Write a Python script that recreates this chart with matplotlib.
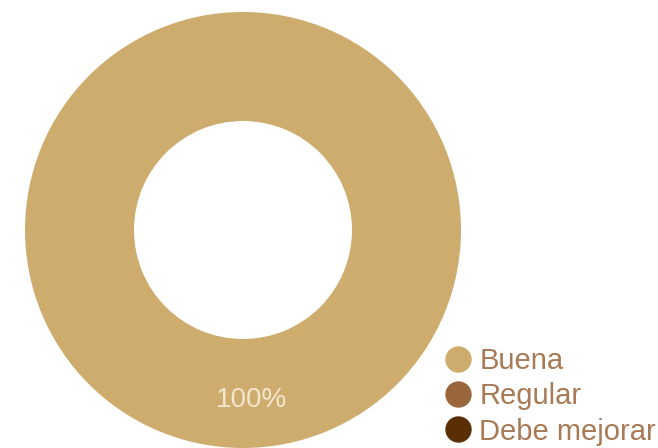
import matplotlib.pyplot as plt
from matplotlib.lines import Line2D

labels = ['Buena', 'Regular', 'Debe mejorar']
values = [100, 0, 0]
colors = ['#CEAC6E', '#9A663C', '#5A2F06']

plt.rcParams['font.family'] = ['Liberation Sans', 'DejaVu Sans']

fig = plt.figure(figsize=(6.58, 4.48), dpi=100)
ax = fig.add_axes([0, 0, 1, 1])


def pct(p):
    return '%d%%' % round(p) if p > 0 else ''


wedges, texts, autotexts = ax.pie(values, colors=colors, center=(243, 218), radius=218,
                                  startangle=93, counterclock=True, autopct=pct,
                                  pctdistance=0.78, frame=True,
                                  wedgeprops=dict(width=109, linewidth=0))
for t in autotexts:
    t.set_color('#F3E7D0')
    t.set_fontsize(20)
ax.set_xlim(0, 658)
ax.set_ylim(0, 448)
ax.set_aspect('equal')
ax.axis('off')

handles = [Line2D([], [], marker='o', linestyle='none', markersize=18,
                  markerfacecolor=c, markeredgecolor=c) for c in colors]
leg = ax.legend(handles, labels, loc='upper left', bbox_to_anchor=(443 / 658, 1 - 347 / 448),
                frameon=False, fontsize=21, handletextpad=0.25, labelspacing=0.25,
                borderpad=0, borderaxespad=0, handlelength=1.0)
for t in leg.get_texts():
    t.set_color('#A87A55')

fig.savefig('out.png', dpi=100)
